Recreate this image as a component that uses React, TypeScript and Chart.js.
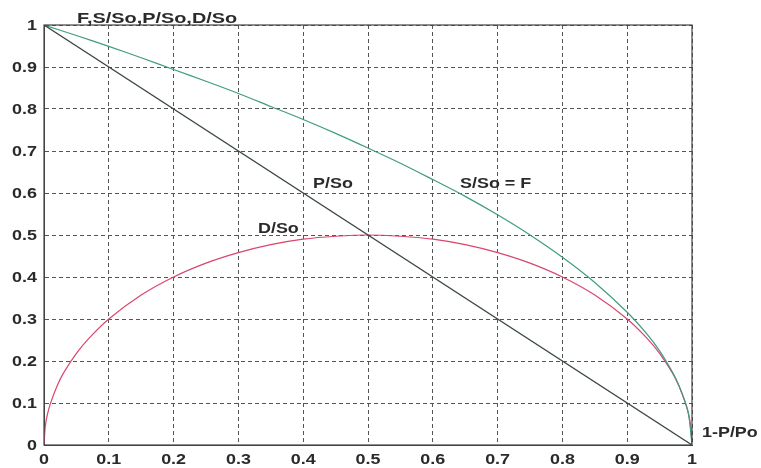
import React, { useEffect, useRef } from "react";
import { Chart, registerables } from "chart.js";

Chart.register(...registerables);

const xTicks = [0, 0.1, 0.2, 0.3, 0.4, 0.5, 0.6, 0.7, 0.8, 0.9, 1];
const yTicks = [0, 0.1, 0.2, 0.3, 0.4, 0.5, 0.6, 0.7, 0.8, 0.9, 1];

// P/So (straight line)
const pX = [0, 1];
const pY = [1, 0];

// S/So = F
const sX = [0, 0.05, 0.1, 0.15, 0.2, 0.25, 0.3, 0.35, 0.4, 0.45, 0.5, 0.55, 0.6, 0.65, 0.7, 0.75, 0.8, 0.85, 0.9, 0.93, 0.95, 0.97, 0.98, 0.99, 0.995, 1];
const sY = [1, 0.975, 0.949, 0.922, 0.894, 0.866, 0.837, 0.806, 0.775, 0.742, 0.707, 0.671, 0.632, 0.592, 0.548, 0.5, 0.447, 0.387, 0.316, 0.265, 0.224, 0.173, 0.141, 0.1, 0.071, 0];

// D/So
const dX = [0, 0.002, 0.005, 0.01, 0.02, 0.03, 0.05, 0.07, 0.1, 0.15, 0.2, 0.25, 0.3, 0.35, 0.4, 0.45, 0.5, 0.55, 0.6, 0.65, 0.7, 0.75, 0.8, 0.85, 0.9, 0.93, 0.95, 0.97, 0.98, 0.99, 0.995, 0.998, 1];
const dY = [0, 0.045, 0.071, 0.099, 0.14, 0.171, 0.218, 0.255, 0.3, 0.357, 0.4, 0.433, 0.458, 0.477, 0.49, 0.497, 0.5, 0.497, 0.49, 0.477, 0.458, 0.433, 0.4, 0.357, 0.3, 0.255, 0.218, 0.171, 0.14, 0.099, 0.071, 0.045, 0];

const yTitle = "F,S/So,P/So,D/So";
const xTitle = "1-P/Po";
const labelP = "P/So";
const labelD = "D/So";
const labelS = "S/So = F";

const FONT = "'Liberation Sans', Arial, sans-serif";
const STRETCH = 1.28;

const toPts = (xs: number[], ys: number[]) => xs.map((x, i) => ({ x, y: ys[i] }));

function stretchText(ctx: CanvasRenderingContext2D, text: string, x: number, y: number, align: "left" | "right" | "center", k: number = STRETCH) {
  const w = ctx.measureText(text).width * k;
  let left = x;
  if (align === "right") left = x - w;
  else if (align === "center") left = x - w / 2;
  ctx.save();
  ctx.translate(left, y);
  ctx.scale(k, 1);
  ctx.textAlign = "left";
  ctx.fillText(text, 0, 0);
  ctx.restore();
}

export default function App() {
  const ref = useRef<HTMLCanvasElement | null>(null);
  useEffect(() => {
    if (!ref.current) return;
    const overlay = {
      id: "overlay",
      afterDraw(chart: any) {
        const { ctx, chartArea, scales } = chart;
        const xs = scales.x, ys = scales.y;
        ctx.save();
        ctx.strokeStyle = "#444";
        ctx.lineWidth = 1.2;
        ctx.setLineDash([]);
        ctx.strokeRect(chartArea.left, chartArea.top, chartArea.right - chartArea.left, chartArea.bottom - chartArea.top);
        ctx.fillStyle = "#2a2a2a";
        ctx.font = `bold 14px ${FONT}`;
        ctx.textBaseline = "alphabetic";
        yTicks.forEach((v) => {
          stretchText(ctx, String(v), 37, ys.getPixelForValue(v) + 5, "right");
        });
        xTicks.forEach((v) => {
          stretchText(ctx, String(v), xs.getPixelForValue(v), 464, "center");
        });
        stretchText(ctx, yTitle, 77, 23, "left", 1.42);
        stretchText(ctx, xTitle, 702, 437, "left");
        stretchText(ctx, labelP, 313, 188, "left");
        stretchText(ctx, labelD, 258, 233, "left");
        stretchText(ctx, labelS, 460, 188, "left");
        ctx.restore();
      },
    };
    const chart = new Chart(ref.current, {
      type: "scatter",
      data: {
        datasets: [
          { label: "P/So", data: toPts(pX, pY), showLine: true, borderColor: "#3b4846", borderWidth: 1.3, pointRadius: 0, tension: 0 },
          { label: "S/So", data: toPts(sX, sY), showLine: true, borderColor: "#3f9c80", borderWidth: 1.2, pointRadius: 0, tension: 0.3 },
          { label: "D/So", data: toPts(dX, dY), showLine: true, borderColor: "#d9466c", borderWidth: 1.2, pointRadius: 0, tension: 0.3 },
        ],
      },
      options: {
        animation: false,
        responsive: false,
        layout: { padding: { top: 25, right: 69, left: 0, bottom: 0 } },
        plugins: { legend: { display: false }, tooltip: { enabled: false } },
        scales: {
          x: {
            type: "linear",
            min: 0,
            max: 1,
            afterBuildTicks: (s: any) => { s.ticks = xTicks.map((v) => ({ value: v })); },
            afterFit: (s: any) => { s.height = 23; },
            ticks: { display: false },
            grid: { color: "#555", lineWidth: 1, drawTicks: false },
            border: { display: true, color: "#444", dash: [4, 3] },
          },
          y: {
            type: "linear",
            min: 0,
            max: 1,
            afterBuildTicks: (s: any) => { s.ticks = yTicks.map((v) => ({ value: v })); },
            afterFit: (s: any) => { s.width = 44; },
            ticks: { display: false },
            grid: { color: "#555", lineWidth: 1, drawTicks: false },
            border: { display: true, color: "#444", dash: [4, 3] },
          },
        },
      },
      plugins: [overlay],
    } as any);
    return () => chart.destroy();
  }, []);
  return (
    <div style={{ position: "fixed", left: 0, top: 0, width: 761, height: 468, background: "#fff" }}>
      <canvas ref={ref} width={761} height={468} style={{ width: 761, height: 468 }} />
    </div>
  );
}
